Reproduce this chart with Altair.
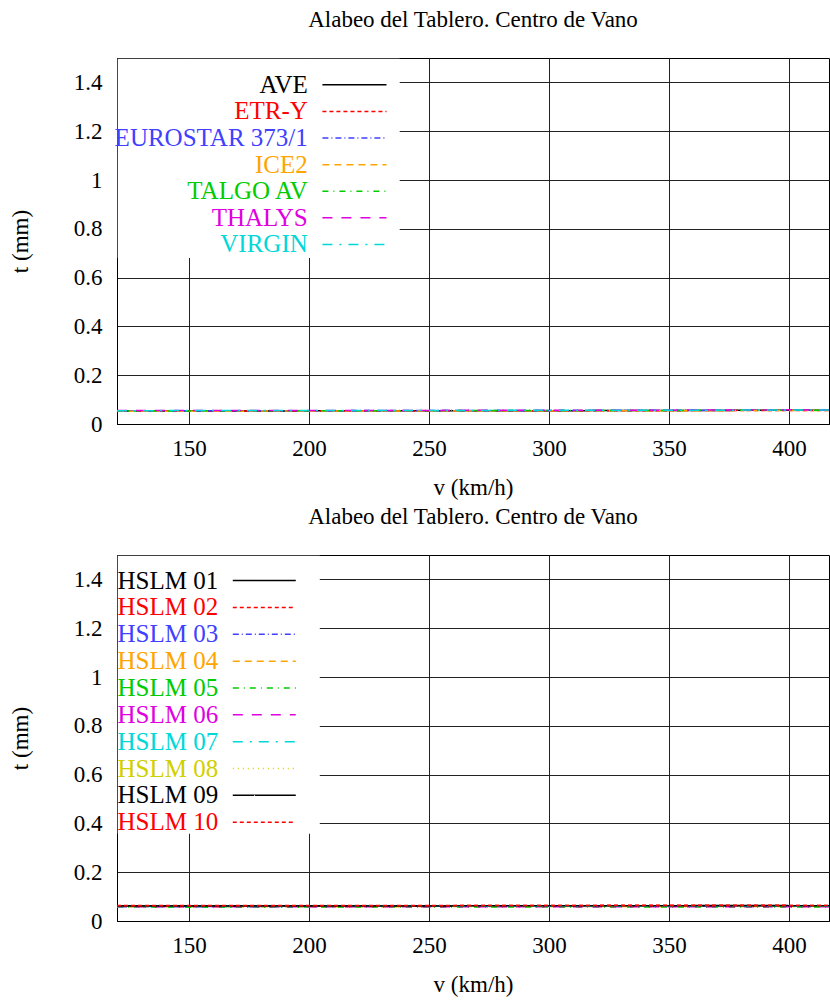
import altair as alt
import pandas as pd

FONT = "Liberation Serif"
TITLE = "Alabeo del Tablero. Centro de Vano"

v = [120, 140, 160, 180, 200, 220, 240, 260, 280, 300, 320, 340, 360, 380, 400, 420]

# ---- top panel: real trains
top_names = ["AVE", "ETR-Y", "EUROSTAR 373/1", "ICE2", "TALGO AV", "THALYS", "VIRGIN"]
top_colors = ["#000000", "#ff0000", "#4040ff", "#ffa500", "#00cc00", "#e000e0", "#00d8d8"]
top_dashes = [[1, 0], [4, 3], [6, 3, 1, 3], [7, 5], [6, 5, 1, 5], [10, 9], [10, 7, 2, 7]]
top_vals = {
    "AVE":            [0.053, 0.053, 0.053, 0.053, 0.054, 0.054, 0.054, 0.054, 0.054, 0.054, 0.055, 0.055, 0.055, 0.056, 0.056, 0.056],
    "ETR-Y":          [0.052, 0.052, 0.053, 0.053, 0.053, 0.053, 0.053, 0.054, 0.054, 0.054, 0.054, 0.054, 0.055, 0.055, 0.055, 0.055],
    "EUROSTAR 373/1": [0.054, 0.054, 0.054, 0.054, 0.054, 0.055, 0.055, 0.055, 0.055, 0.055, 0.055, 0.056, 0.056, 0.056, 0.057, 0.056],
    "ICE2":           [0.052, 0.052, 0.052, 0.053, 0.053, 0.053, 0.053, 0.053, 0.054, 0.054, 0.054, 0.054, 0.054, 0.055, 0.055, 0.055],
    "TALGO AV":       [0.053, 0.053, 0.054, 0.054, 0.054, 0.054, 0.054, 0.055, 0.055, 0.055, 0.055, 0.055, 0.056, 0.056, 0.056, 0.056],
    "THALYS":         [0.055, 0.055, 0.055, 0.055, 0.055, 0.055, 0.055, 0.056, 0.056, 0.056, 0.056, 0.056, 0.057, 0.057, 0.058, 0.057],
    "VIRGIN":         [0.054, 0.055, 0.055, 0.055, 0.055, 0.055, 0.055, 0.055, 0.056, 0.056, 0.056, 0.056, 0.056, 0.057, 0.057, 0.057],
}

# ---- bottom panel: HSLM
bot_names = ["HSLM 01", "HSLM 02", "HSLM 03", "HSLM 04", "HSLM 05",
             "HSLM 06", "HSLM 07", "HSLM 08", "HSLM 09", "HSLM 10"]
bot_colors = ["#000000", "#ff0000", "#4040ff", "#ffa500", "#00cc00",
              "#e000e0", "#00d8d8", "#d0d000", "#000000", "#ff0000"]
bot_dashes = [[1, 0], [4, 3], [6, 3, 1, 3], [7, 5], [6, 5, 1, 5],
              [10, 9], [10, 7, 2, 7], [1, 4], [1, 0], [4, 3]]
bot_vals = {
    "HSLM 01": [0.062, 0.062, 0.062, 0.062, 0.062, 0.062, 0.062, 0.062, 0.063, 0.063, 0.063, 0.063, 0.063, 0.064, 0.063, 0.063],
    "HSLM 02": [0.064, 0.064, 0.064, 0.064, 0.064, 0.064, 0.064, 0.064, 0.064, 0.064, 0.064, 0.065, 0.065, 0.065, 0.064, 0.064],
    "HSLM 03": [0.059, 0.059, 0.059, 0.059, 0.059, 0.060, 0.060, 0.060, 0.060, 0.060, 0.060, 0.060, 0.060, 0.060, 0.060, 0.060],
    "HSLM 04": [0.058, 0.058, 0.058, 0.058, 0.058, 0.058, 0.059, 0.059, 0.059, 0.059, 0.059, 0.059, 0.059, 0.059, 0.059, 0.059],
    "HSLM 05": [0.057, 0.057, 0.056, 0.056, 0.057, 0.057, 0.057, 0.057, 0.057, 0.057, 0.057, 0.057, 0.057, 0.057, 0.057, 0.057],
    "HSLM 06": [0.058, 0.058, 0.058, 0.058, 0.058, 0.058, 0.058, 0.058, 0.058, 0.058, 0.058, 0.058, 0.058, 0.058, 0.058, 0.058],
    "HSLM 07": [0.059, 0.059, 0.059, 0.059, 0.060, 0.060, 0.060, 0.060, 0.060, 0.060, 0.060, 0.060, 0.060, 0.060, 0.060, 0.060],
    "HSLM 08": [0.060, 0.060, 0.060, 0.060, 0.060, 0.060, 0.060, 0.061, 0.061, 0.061, 0.061, 0.061, 0.061, 0.061, 0.061, 0.061],
    "HSLM 09": [0.061, 0.061, 0.061, 0.061, 0.061, 0.061, 0.061, 0.062, 0.062, 0.062, 0.062, 0.062, 0.062, 0.062, 0.062, 0.062],
    "HSLM 10": [0.063, 0.063, 0.063, 0.063, 0.063, 0.063, 0.063, 0.063, 0.064, 0.064, 0.064, 0.064, 0.064, 0.064, 0.064, 0.064],
}

x_ticks = [150, 200, 250, 300, 350, 400]
y_ticks = [0, 0.2, 0.4, 0.6, 0.8, 1.0, 1.2, 1.4]

# the original plot runs past the right edge of the picture; show the visible part
X_DOMAIN = [120, 416.7]
W, H = 712, 366
FS = 23


def panel(names, colors, dashes, vals, leg):
    rows = []
    for n in names:
        for xv, yv in zip(v, vals[n]):
            rows.append({"serie": n, "v": xv, "t": yv})
    df = pd.DataFrame(rows)

    xs = alt.Scale(domain=X_DOMAIN, nice=False, zero=False)
    ys = alt.Scale(domain=[0, 1.5], nice=False)
    cs = alt.Scale(domain=names, range=colors)
    ds = alt.Scale(domain=names, range=dashes)

    xax = alt.Axis(values=x_ticks, title="v (km/h)", grid=True, ticks=False,
                   labelPadding=13, titlePadding=16)
    yax = alt.Axis(values=y_ticks, title="t (mm)", grid=True, ticks=False,
                   format=".1~f", labelPadding=15, titlePadding=41)

    lines = alt.Chart(df).mark_line(strokeWidth=1.5, clip=True).encode(
        x=alt.X("v:Q", scale=xs, axis=xax),
        y=alt.Y("t:Q", scale=ys, axis=yax),
        color=alt.Color("serie:N", scale=cs, legend=None),
        strokeDash=alt.StrokeDash("serie:N", scale=ds, legend=None),
        detail="serie:N",
    )

    n = len(names)
    ldf = pd.DataFrame({
        "serie": names,
        "ly": [leg["y0"] - i * leg["dy"] for i in range(n)],
        "tx": [leg["tx"]] * n,
        "lx1": [leg["lx1"]] * n,
        "lx2": [leg["lx2"]] * n,
    })
    box = pd.DataFrame({"bx1": [120.3], "bx2": [leg["bx2"]],
                        "by1": [leg["by1"]], "by2": [1.497]})

    rect = alt.Chart(box).mark_rect(color="white").encode(
        x=alt.X("bx1:Q", scale=xs), x2="bx2:Q",
        y=alt.Y("by1:Q", scale=ys), y2="by2:Q",
    )
    txt = alt.Chart(ldf).mark_text(align=leg["align"], baseline="middle",
                                   font=FONT, fontSize=25).encode(
        x=alt.X("tx:Q", scale=xs), y=alt.Y("ly:Q", scale=ys),
        text="serie:N",
        color=alt.Color("serie:N", scale=cs, legend=None),
    )
    samp = alt.Chart(ldf).mark_rule(strokeWidth=1.5).encode(
        x=alt.X("lx1:Q", scale=xs), x2="lx2:Q",
        y=alt.Y("ly:Q", scale=ys),
        color=alt.Color("serie:N", scale=cs, legend=None),
        strokeDash=alt.StrokeDash("serie:N", scale=ds, legend=None),
    )
    return alt.layer(rect, lines, txt, samp).properties(
        width=W, height=H,
        title=alt.TitleParams(TITLE, font=FONT, fontSize=FS, fontWeight="normal",
                              anchor="middle", offset=26, color="black"),
    )


top = panel(top_names, top_colors, top_dashes, top_vals,
            dict(y0=1.39, dy=0.109, tx=199.5, lx1=205.6, lx2=232.3,
                 align="right", bx2=237.8, by1=0.68))
bot = panel(bot_names, bot_colors, bot_dashes, bot_vals,
            dict(y0=1.395, dy=0.11, tx=120.2, lx1=168.25, lx2=194.5,
                 align="left", bx2=204.5, by1=0.358))

chart = alt.vconcat(top, bot, spacing=5).resolve_scale(
    color="independent", strokeDash="independent",
).properties(
    padding={"left": 8, "top": 8, "right": 0, "bottom": 0},
).configure(
    font=FONT,
).configure_axis(
    labelFont=FONT, titleFont=FONT, labelFontSize=FS, titleFontSize=FS,
    labelColor="black", titleColor="black", titleFontWeight="normal",
    domainColor="black", domainWidth=1,
    gridColor="#222222", gridWidth=1, gridOpacity=1,
).configure_view(
    stroke="black", strokeWidth=1,
)

chart.save("out.html", embed_options={"renderer": "svg", "actions": False})
